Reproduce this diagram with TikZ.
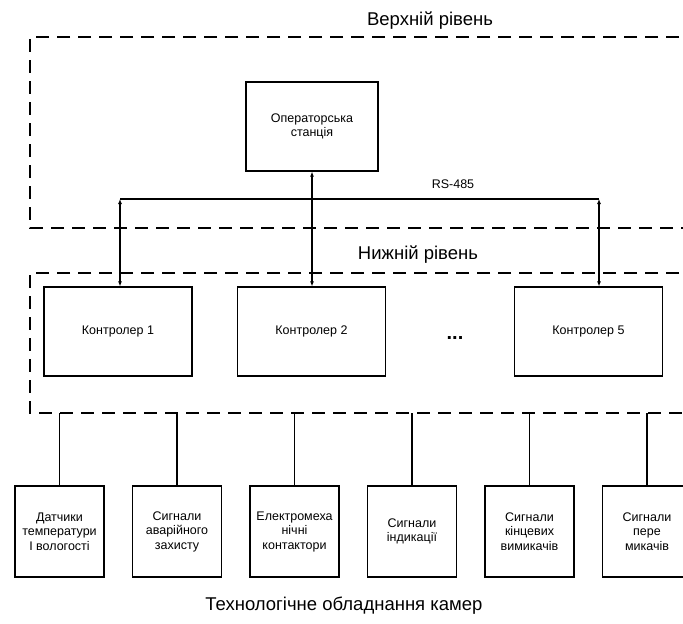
\documentclass[tikz,border=0pt]{standalone}
\usepackage{fontspec}
\setmainfont{Liberation Sans}
\usetikzlibrary{arrows.meta,calc}
\begin{document}
\begin{tikzpicture}[x=1pt,y=-1pt,
  box/.style={draw, line width=1.2pt, align=center, inner sep=1pt,
    font=\fontsize{12.5}{14.5}\selectfont},
  ctrl/.style={box, minimum width=148pt, minimum height=89pt},
  dev/.style={box, minimum width=89pt, minimum height=91pt},
  zone/.style={line width=1.3pt, dash pattern=on 13pt off 8pt},
  link/.style={line width=1.2pt},
  bi/.style={link, {Latex[length=5pt,width=4pt]}-{Latex[length=5pt,width=4pt]}},
  title/.style={font=\fontsize{18.5}{18.5}\selectfont}
]
\useasboundingbox (0,0) rectangle (683,624);

% level frames (open to the right)
\draw[zone] (700,37) -- (30,37) -- (30,228) -- (700,228);
\draw[zone] (700,273) -- (30,273) -- (30,413) -- (700,413);

% level captions
\node[title] (upper) at (430,21) {Верхній рівень};
\node[title] (lower) at (418,255) {Нижній рівень};
\node[title] (plant) at (344,606) {Технологічне обладнання камер};

% upper level
\node[box, minimum width=132pt, minimum height=89pt] (op) at (312,126.5)
  {Операторська\\станція};
\node[font=\fontsize{12.5}{14.5}\selectfont] (rs) at (453,184) {RS-485};

% controllers
\node[ctrl] (c1) at (118,331.5) {Контролер 1};
\node[ctrl] (c2) at (311.5,331.5) {Контролер 2};
\node[ctrl] (c5) at (588.5,331.5) {Контролер 5};
\node[font=\fontsize{20}{20}\selectfont\bfseries] (dots) at (455,338) {...};

% RS-485 bus
\coordinate (b1) at (120,199);
\coordinate (b5) at (599,199);
\draw[link] (b1) -- (b5);
\draw[bi] (b1) -- (b1 |- c1.north);
\draw[bi] (op.south) -- (op.south |- c2.north);
\draw[bi] (b5) -- (b5 |- c5.north);

% field equipment
\node[dev] (d1) at (59.5,531.5) {Датчики\\температури\\І вологості};
\node[dev] (d2) at (177,531.5) {Сигнали\\аварійного\\захисту};
\node[dev] (d3) at (294.5,531.5) {Електромеха\\нічні\\контактори};
\node[dev] (d4) at (412,531.5) {Сигнали\\індикації};
\node[dev] (d5) at (529.5,531.5) {Сигнали\\кінцевих\\вимикачів};
\node[dev] (d6) at (647,531.5) {Сигнали\\пере\\микачів};

\foreach \i in {1,...,6}{
  \coordinate (t\i) at (d\i.north |- 0,413);
  \draw[link] (t\i) -- (d\i.north);
}
\end{tikzpicture}
\end{document}
